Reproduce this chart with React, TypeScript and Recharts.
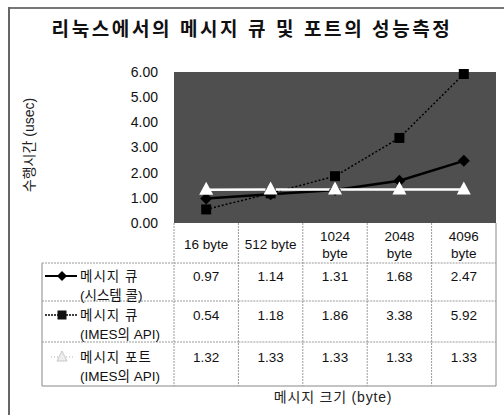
import React from 'react';
import { LineChart, Line, XAxis, YAxis, CartesianGrid } from 'recharts';

const categories = ['16 byte', '512 byte', '1024 byte', '2048 byte', '4096 byte'];
const categoryLines = [['16 byte'], ['512 byte'], ['1024', 'byte'], ['2048', 'byte'], ['4096', 'byte']];
const seriesNames = [
  ['메시지 큐', '(시스템 콜)'],
  ['메시지 큐', '(IMES의 API)'],
  ['메시지 포트', '(IMES의 API)'],
];
const queueSyscall = [0.97, 1.14, 1.31, 1.68, 2.47];
const queueImes = [0.54, 1.18, 1.86, 3.38, 5.92];
const portImes = [1.32, 1.33, 1.33, 1.33, 1.33];
const yTicks = [0, 1, 2, 3, 4, 5, 6];
const seriesValues = [queueSyscall, queueImes, portImes];

const titleText = '리눅스에서의 메시지 큐 및 포트의 성능측정';
const yTitle = '수행시간 (usec)';
const xTitle = '메시지 크기 (byte)';

const data = categories.map((c, i) => ({
  cat: c,
  s1: queueSyscall[i],
  s2: queueImes[i],
  s3: portImes[i],
}));

const FONT = '"Liberation Sans", Arial, "Noto Sans CJK KR", sans-serif';
const CHART_W = 496;
const CHART_H = 407;
const MARGIN = { top: 64, right: 8, left: 0, bottom: 29 };
const Y_W = 166;
const X_H = 163;
const PLOT_LEFT = MARGIN.left + Y_W;
const PLOT_W = CHART_W - MARGIN.right - PLOT_LEFT;
const BAND = PLOT_W / categories.length;
const TABLE_LEFT = 34;
const ROW_TOPS = [40, 78, 119];
const ROW_TEXT = [53, 92, 134];
const GRID = '#9a9a9a';

const Diamond = (p: any) => {
  const { cx, cy } = p;
  if (cx == null || cy == null) return null;
  return <path d={`M${cx},${cy - 6}L${cx + 6},${cy}L${cx},${cy + 6}L${cx - 6},${cy}Z`} fill="#000" />;
};
const Square = (p: any) => {
  const { cx, cy } = p;
  if (cx == null || cy == null) return null;
  return <rect x={cx - 5} y={cy - 5} width={10} height={10} fill="#000" />;
};
const Triangle = (p: any) => {
  const { cx, cy } = p;
  if (cx == null || cy == null) return null;
  return <path d={`M${cx},${cy - 8}L${cx + 7},${cy + 5}L${cx - 7},${cy + 5}Z`} fill="#fff" />;
};

const LegendMarker = ({ k, y }: { k: number; y: number }) => {
  const x1 = 37, x2 = 69, cx = 54;
  if (k === 0)
    return (
      <g>
        <line x1={x1} x2={x2} y1={y} y2={y} stroke="#000" strokeWidth={2} />
        <path d={`M${cx},${y - 5}L${cx + 5},${y}L${cx},${y + 5}L${cx - 5},${y}Z`} fill="#000" />
      </g>
    );
  if (k === 1)
    return (
      <g>
        <line x1={x1} x2={x2} y1={y} y2={y} stroke="#000" strokeWidth={1.5} strokeDasharray="2 1" />
        <rect x={cx - 4.5} y={y - 4.5} width={9} height={9} fill="#111" />
      </g>
    );
  return (
    <g>
      <line x1={x1 + 6} x2={x2 - 4} y1={y} y2={y} stroke="#ccc" strokeWidth={1.5} strokeDasharray="1 2" />
      <path d={`M${cx},${y - 6}L${cx + 5},${y + 4}L${cx - 5},${y + 4}Z`} fill="#eee" stroke="#bbb" strokeWidth={0.8} />
    </g>
  );
};

const TableTick = (props: any) => {
  const { x, y, payload } = props;
  const i: number = payload?.index ?? props.index ?? 0;
  const left = x - BAND / 2;
  const right = x + BAND / 2;
  const lines = categoryLines[i];
  const bottom = y + X_H;
  return (
    <g fontFamily={FONT}>
      <line x1={left} x2={left} y1={y} y2={bottom} stroke={GRID} strokeDasharray="2 1" />
      {i === categories.length - 1 && (
        <line x1={right} x2={right} y1={y} y2={bottom} stroke="#888" />
      )}
      {ROW_TOPS.map((r, k) => (
        <line key={k} x1={left} x2={right} y1={y + r} y2={y + r} stroke={GRID} strokeDasharray="2 1" />
      ))}
      <line x1={left} x2={right} y1={bottom} y2={bottom} stroke="#888" />
      {lines.length === 1 ? (
        <text x={x} y={y + 21} textAnchor="middle" dominantBaseline="central" fontSize={13.5} fill="#111">
          {lines[0]}
        </text>
      ) : (
        lines.map((t, k) => (
          <text key={k} x={x} y={y + 13 + k * 17} textAnchor="middle" dominantBaseline="central" fontSize={13.5} fill="#111">
            {t}
          </text>
        ))
      )}
      {seriesValues.map((vals, k) => (
        <text key={k} x={x} y={y + ROW_TEXT[k]} textAnchor="middle" dominantBaseline="central" fontSize={13.5} fill="#111">
          {vals[i].toFixed(2)}
        </text>
      ))}
      {i === 0 && (
        <g>
          <line x1={TABLE_LEFT} x2={TABLE_LEFT} y1={y + ROW_TOPS[0]} y2={bottom} stroke="#888" />
          {ROW_TOPS.map((r, k) => (
            <line key={k} x1={TABLE_LEFT} x2={left} y1={y + r} y2={y + r} stroke={GRID} strokeDasharray="2 1" />
          ))}
          <line x1={TABLE_LEFT} x2={left} y1={bottom} y2={bottom} stroke="#888" />
          {seriesNames.map((nm, k) => (
            <g key={k}>
              <LegendMarker k={k} y={y + ROW_TEXT[k]} />
              <text x={72} y={y + ROW_TEXT[k]} dominantBaseline="central" fontSize={13.5} fill="#111" letterSpacing={1}>
                {nm[0]}
              </text>
              <text x={72} y={y + ROW_TEXT[k] + 19} dominantBaseline="central" fontSize={13.5} fill="#111">
                {nm[1]}
              </text>
            </g>
          ))}
        </g>
      )}
    </g>
  );
};

export default function App() {
  return (
    <div style={{ position: 'fixed', left: 0, top: 0, width: 504, height: 415, overflow: 'hidden', background: '#fff' }}>
      <div style={{ position: 'absolute', left: 8, top: 7, width: 496, height: 2, background: '#777' }} />
      <div style={{ position: 'absolute', left: 8, top: 7, width: 2, height: 408, background: '#666' }} />
      <div
        style={{
          position: 'absolute', left: 0, top: 18, width: 504, textAlign: 'center',
          fontFamily: FONT, fontWeight: 'bold', fontSize: 19, lineHeight: '24px', letterSpacing: 2.6, color: '#111',
        }}
      >
        {titleText}
      </div>
      <div
        style={{
          position: 'absolute', left: -46, top: 135, width: 150, height: 20, lineHeight: '20px', textAlign: 'center',
          transform: 'rotate(-90deg)', fontFamily: FONT, fontSize: 14, color: '#222',
        }}
      >
        {yTitle}
      </div>
      <div
        style={{
          position: 'absolute', left: 233, top: 387, width: 200, lineHeight: '20px', textAlign: 'center',
          fontFamily: FONT, fontSize: 14, letterSpacing: 0.8, color: '#222',
        }}
      >
        {xTitle}
      </div>
      <div style={{ position: 'absolute', left: 8, top: 8 }}>
        <LineChart width={CHART_W} height={CHART_H} data={data} margin={MARGIN}>
          <CartesianGrid fill="#4f4f4f" stroke="none" horizontal={false} vertical={false} />
          <XAxis
            dataKey="cat"
            height={X_H}
            interval={0}
            padding={{ left: BAND / 2, right: BAND / 2 }}
            axisLine={false}
            tickLine={false}
            tickSize={0}
            tickMargin={0}
            tick={<TableTick />}
          />
          <YAxis
            width={Y_W}
            domain={[0, 6]}
            ticks={yTicks}
            axisLine={false}
            tickLine={false}
            tickSize={0}
            tickMargin={16}
            tickFormatter={(v: number) => v.toFixed(2)}
            tick={{ fontFamily: FONT, fontSize: 14, fill: '#111' }}
          />
          <Line dataKey="s2" stroke="#000" strokeWidth={1.5} strokeDasharray="2 2" dot={<Square />} isAnimationActive={false} />
          <Line dataKey="s1" stroke="#000" strokeWidth={2.5} dot={<Diamond />} isAnimationActive={false} />
          <Line dataKey="s3" stroke="#fff" strokeWidth={2.5} dot={<Triangle />} isAnimationActive={false} />
        </LineChart>
      </div>
    </div>
  );
}
